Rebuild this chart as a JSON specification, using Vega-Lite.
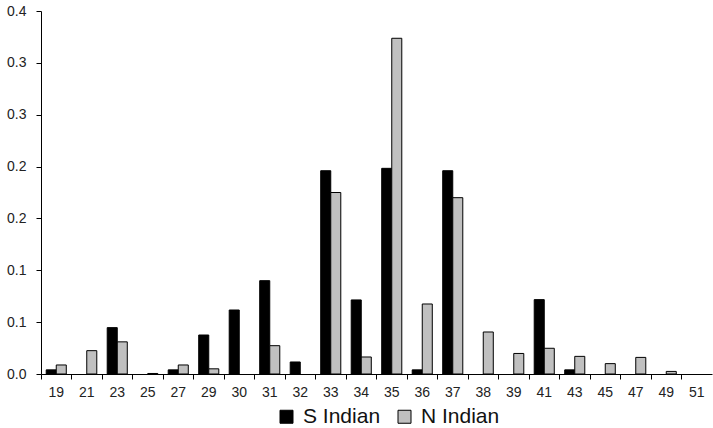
{
  "$schema": "https://vega.github.io/schema/vega-lite/v6.json",
  "width": 671,
  "height": 363,
  "autosize": {"type": "none"},
  "padding": {"left": 41, "top": 11, "right": 1, "bottom": 54},
  "background": "white",
  "config": {
    "view": {"stroke": null},
    "font": "Liberation Sans",
    "axis": {"grid": false, "domainColor": "#000000", "tickColor": "#000000", "labelColor": "#222222", "labelFont": "Liberation Sans", "labelFontSize": 14, "title": null, "tickSize": 5, "domainWidth": 1, "tickWidth": 1}
  },
  "data": {"values": [
    {"size": "19", "group": "S Indian", "freq": 0.004}, {"size": "19", "group": "N Indian", "freq": 0.0087},
    {"size": "21", "group": "S Indian", "freq": 0}, {"size": "21", "group": "N Indian", "freq": 0.0225},
    {"size": "23", "group": "S Indian", "freq": 0.0447}, {"size": "23", "group": "N Indian", "freq": 0.031},
    {"size": "25", "group": "S Indian", "freq": 0}, {"size": "25", "group": "N Indian", "freq": 0.0005},
    {"size": "27", "group": "S Indian", "freq": 0.004}, {"size": "27", "group": "N Indian", "freq": 0.0087},
    {"size": "29", "group": "S Indian", "freq": 0.0376}, {"size": "29", "group": "N Indian", "freq": 0.005},
    {"size": "30", "group": "S Indian", "freq": 0.0617}, {"size": "30", "group": "N Indian", "freq": 0},
    {"size": "31", "group": "S Indian", "freq": 0.09}, {"size": "31", "group": "N Indian", "freq": 0.0273},
    {"size": "32", "group": "S Indian", "freq": 0.0116}, {"size": "32", "group": "N Indian", "freq": 0},
    {"size": "33", "group": "S Indian", "freq": 0.196}, {"size": "33", "group": "N Indian", "freq": 0.175},
    {"size": "34", "group": "S Indian", "freq": 0.0714}, {"size": "34", "group": "N Indian", "freq": 0.0164},
    {"size": "35", "group": "S Indian", "freq": 0.1983}, {"size": "35", "group": "N Indian", "freq": 0.3237},
    {"size": "36", "group": "S Indian", "freq": 0.004}, {"size": "36", "group": "N Indian", "freq": 0.0675},
    {"size": "37", "group": "S Indian", "freq": 0.196}, {"size": "37", "group": "N Indian", "freq": 0.17},
    {"size": "38", "group": "S Indian", "freq": 0}, {"size": "38", "group": "N Indian", "freq": 0.0405},
    {"size": "39", "group": "S Indian", "freq": 0}, {"size": "39", "group": "N Indian", "freq": 0.0198},
    {"size": "41", "group": "S Indian", "freq": 0.0717}, {"size": "41", "group": "N Indian", "freq": 0.0248},
    {"size": "43", "group": "S Indian", "freq": 0.004}, {"size": "43", "group": "N Indian", "freq": 0.017},
    {"size": "45", "group": "S Indian", "freq": 0}, {"size": "45", "group": "N Indian", "freq": 0.01},
    {"size": "47", "group": "S Indian", "freq": 0}, {"size": "47", "group": "N Indian", "freq": 0.016},
    {"size": "49", "group": "S Indian", "freq": 0}, {"size": "49", "group": "N Indian", "freq": 0.0025},
    {"size": "51", "group": "S Indian", "freq": 0}, {"size": "51", "group": "N Indian", "freq": 0}
  ]},
  "transform": [{"filter": "datum.freq > 0"}],
  "mark": {"type": "bar", "stroke": "#000000", "strokeWidth": 1},
  "encoding": {
    "x": {
      "field": "size", "type": "ordinal",
      "scale": {"domain": ["19","21","23","25","27","29","30","31","32","33","34","35","36","37","38","39","41","43","45","47","49","51"], "paddingInner": 0, "paddingOuter": 0},
      "axis": {"labelAngle": 0, "bandPosition": 0, "labelPadding": 6, "labelOffset": 0, "labelAlign": "center"}
    },
    "xOffset": {
      "field": "group", "type": "nominal",
      "scale": {"domain": ["S Indian", "N Indian"], "paddingOuter": 0.52, "paddingInner": 0}
    },
    "y": {
      "field": "freq", "type": "quantitative",
      "scale": {"domain": [0, 0.35], "nice": false},
      "axis": {"values": [0, 0.05, 0.1, 0.15, 0.2, 0.25, 0.3, 0.35], "labelExpr": "format(datum.value + 1e-9, '.1f')", "labelPadding": 10}
    },
    "fill": {
      "field": "group", "type": "nominal",
      "scale": {"domain": ["S Indian", "N Indian"], "range": ["#000000", "#C0C0C0"]},
      "legend": {"title": null, "orient": "none", "legendX": 235, "legendY": 395, "direction": "horizontal", "symbolType": "square", "symbolSize": 169, "symbolStrokeColor": "#000000", "symbolStrokeWidth": 1, "labelFontSize": 21, "labelColor": "#111111", "labelFont": "Liberation Sans", "columnPadding": 13, "labelOffset": 6, "padding": 0}
    }
  }
}
